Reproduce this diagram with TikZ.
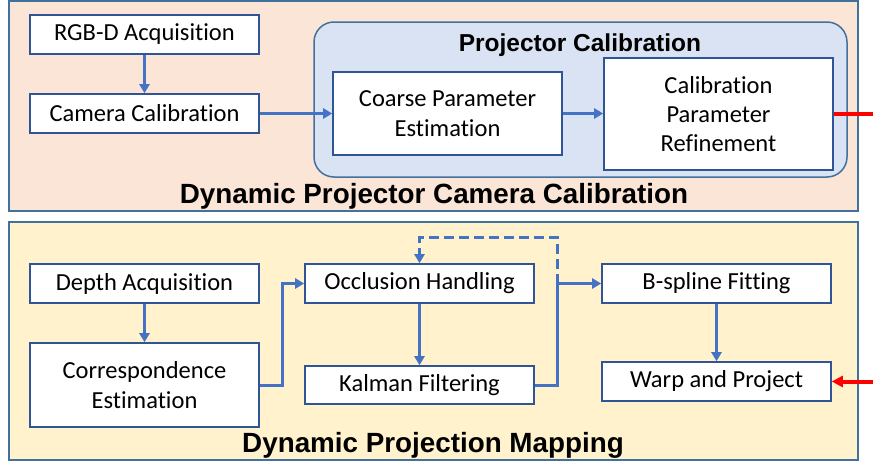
\documentclass[tikz,border=0pt]{standalone}
\usepackage{fontspec}
\setmainfont{Carlito}[Ligatures={NoCommon,NoContextual},Contextuals=NoAlternate]
\newfontfamily\titlefont{Liberation Sans}
\usetikzlibrary{arrows.meta}

\definecolor{peach}{HTML}{FBE5D6}
\definecolor{cream}{HTML}{FFF2CC}
\definecolor{paleblue}{HTML}{DAE3F3}
\definecolor{panelline}{HTML}{41719C}
\definecolor{boxline}{HTML}{2F5597}
\definecolor{flowblue}{HTML}{4472C4}

\tikzset{
  stage/.style={draw=boxline, line width=1.6pt, fill=white, minimum width=229pt,
    minimum height=39pt, inner sep=0pt, align=center,
    font=\fontsize{24.5}{29.4}\selectfont},
  flow/.style={draw=flowblue, line width=3pt, -{Triangle[length=9pt,width=10pt]}},
  feed/.style={draw=red, line width=4pt},
  paneltitle/.style={anchor=base, font=\titlefont\bfseries\fontsize{27.8}{33}\selectfont}
}

\begin{document}
\begin{tikzpicture}[x=1pt, y=-1pt]
  \useasboundingbox (0,0) rectangle (873,463);

  % the two panels
  \draw[panelline, line width=2pt, fill=peach] (9,1) rectangle (858,211);
  \draw[panelline, line width=2pt, fill=cream] (9,222) rectangle (858,460);
  \draw[panelline, line width=1.5pt, fill=paleblue, rounded corners=20pt] (314,22) rectangle (847,177);

  \node[paneltitle] (calibtitle) at (434,203) {Dynamic Projector Camera Calibration};
  \node[paneltitle] (maptitle) at (433,452) {Dynamic Projection Mapping};
  \node[paneltitle, font=\titlefont\bfseries\fontsize{24.5}{29}\selectfont] (projtitle) at (580,51) {Projector Calibration};

  % calibration stages
  \node[stage] (rgbd) at (144.5,34.5) {RGB-D Acquisition};
  \node[stage] (camcal) at (144.5,113.5) {Camera Calibration};
  \node[stage, minimum height=83pt] (coarse) at (447.5,113.5) {Coarse Parameter\\Estimation};
  \node[stage, minimum height=112pt] (refine) at (718.5,114) {Calibration\\Parameter\\Refinement};

  % mapping stages
  \node[stage] (depth) at (144.5,283.5) {Depth Acquisition};
  \node[stage, minimum height=84pt] (corresp) at (144.5,385) {Correspondence\\Estimation};
  \node[stage] (occl) at (419.5,283.5) {Occlusion Handling};
  \node[stage, minimum height=38pt] (kalman) at (419.5,385) {Kalman Filtering};
  \node[stage] (bspline) at (716.5,283.5) {B-spline Fitting};
  \node[stage] (warp) at (716.5,381.5) {Warp and Project};

  \coordinate (junction) at (557,283.5);
  \coordinate (loop) at (557,237);
  \coordinate (feedout) at (873,114);
  \coordinate (feedin) at (873,381.5);

  \draw[flow] (rgbd) -- (camcal);
  \draw[flow] (camcal) -- (coarse);
  \draw[flow] (coarse.east) -- (coarse.east -| refine.west);

  \draw[flow] (depth) -- (corresp);
  \draw[flow] (corresp.east) -- ++(23,0) |- (occl.west);
  \draw[flow] (occl) -- (kalman);
  \draw[flow] (kalman.east) -| (junction) -- (bspline.west);
  \draw[flow, dash pattern=on 10pt off 5pt] (junction) -- (loop) -| (occl.north);
  \draw[flow] (bspline) -- (warp);

  % links between the panels
  \draw[feed] (refine.east) -- (feedout);
  \draw[feed, -{Triangle[length=11pt,width=11pt]}] (feedin) -- (warp.east);
\end{tikzpicture}
\end{document}
